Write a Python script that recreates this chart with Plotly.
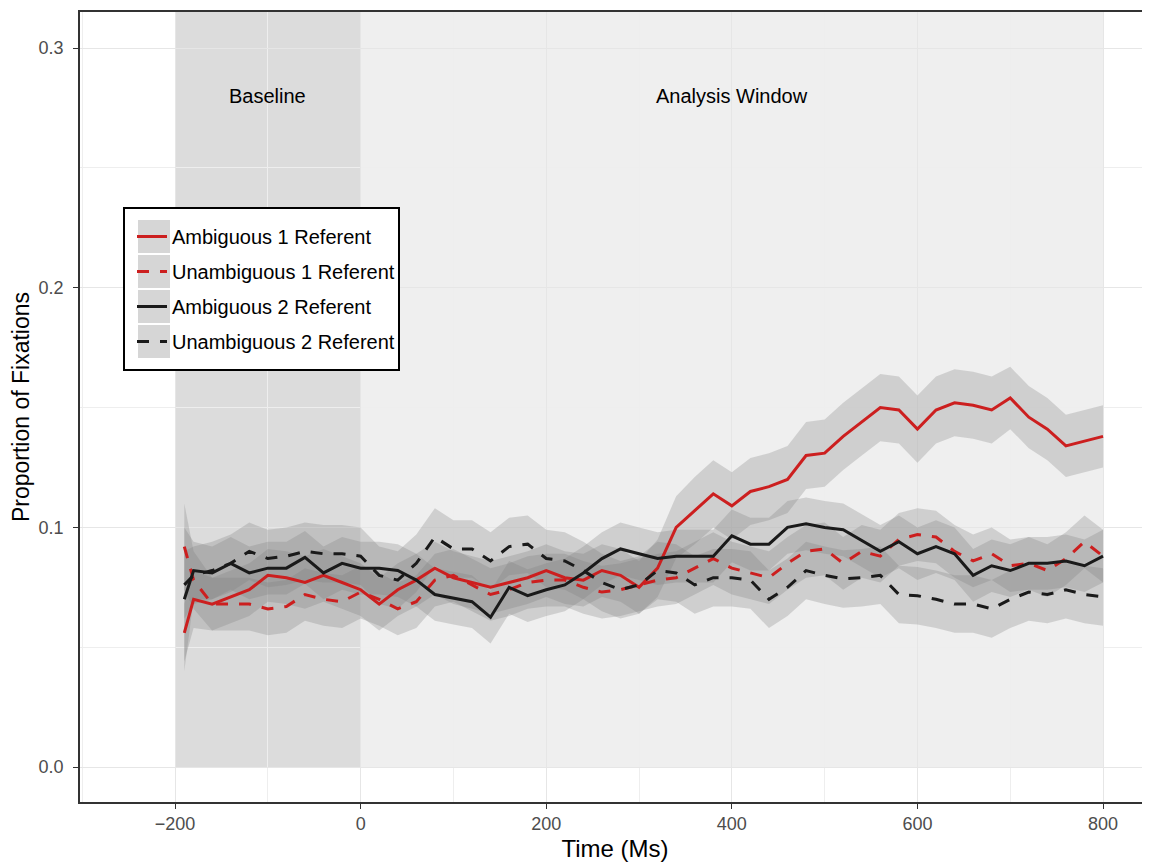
import plotly.graph_objects as go

# ---- data ----
time_ms = [-190, -180, -160, -140, -120, -100, -80, -60, -40, -20, 0, 20, 40, 60, 80, 100,
           120, 140, 160, 180, 200, 220, 240, 260, 280, 300, 320, 340, 360, 380, 400, 420,
           440, 460, 480, 500, 520, 540, 560, 580, 600, 620, 640, 660, 680, 700, 720, 740,
           760, 780, 800]

amb1 = [0.056, 0.070, 0.068, 0.071, 0.074, 0.080, 0.079, 0.077, 0.080, 0.077, 0.074, 0.068,
        0.074, 0.078, 0.083, 0.079, 0.077, 0.075, 0.077, 0.079, 0.082, 0.079, 0.078, 0.082,
        0.080, 0.075, 0.083, 0.100, 0.107, 0.114, 0.109, 0.115, 0.117, 0.120, 0.130, 0.131,
        0.138, 0.144, 0.150, 0.149, 0.141, 0.149, 0.152, 0.151, 0.149, 0.154, 0.146, 0.141,
        0.134, 0.136, 0.138]
amb1_se = [0.012, 0.012, 0.011, 0.011, 0.011, 0.011, 0.011, 0.011, 0.011, 0.011, 0.011, 0.011,
           0.011, 0.011, 0.011, 0.011, 0.011, 0.011, 0.011, 0.011, 0.011, 0.011, 0.011, 0.011,
           0.011, 0.011, 0.012, 0.013, 0.014, 0.014, 0.014, 0.014, 0.014, 0.014, 0.014, 0.014,
           0.014, 0.014, 0.014, 0.014, 0.014, 0.014, 0.014, 0.014, 0.014, 0.013, 0.013, 0.013,
           0.013, 0.013, 0.013]

unamb1 = [0.092, 0.078, 0.068, 0.068, 0.068, 0.066, 0.067, 0.072, 0.070, 0.069, 0.073, 0.070,
          0.066, 0.069, 0.078, 0.080, 0.076, 0.072, 0.074, 0.077, 0.078, 0.078, 0.075, 0.073,
          0.074, 0.076, 0.078, 0.079, 0.083, 0.087, 0.083, 0.081, 0.079, 0.085, 0.090, 0.091,
          0.085, 0.090, 0.088, 0.095, 0.097, 0.096, 0.090, 0.086, 0.089, 0.084, 0.085, 0.082,
          0.087, 0.094, 0.088]
unamb1_se = [0.018, 0.012, 0.011, 0.011, 0.011, 0.011, 0.011, 0.011, 0.011, 0.011, 0.011, 0.011,
             0.011, 0.011, 0.011, 0.011, 0.011, 0.011, 0.011, 0.011, 0.011, 0.011, 0.011, 0.011,
             0.011, 0.011, 0.011, 0.011, 0.011, 0.011, 0.011, 0.011, 0.011, 0.011, 0.011, 0.011,
             0.011, 0.011, 0.011, 0.011, 0.011, 0.011, 0.011, 0.011, 0.011, 0.011, 0.011, 0.011,
             0.011, 0.011, 0.011]

amb2 = [0.070, 0.082, 0.081, 0.085, 0.081, 0.083, 0.083, 0.0875, 0.081, 0.085, 0.083, 0.083,
        0.082, 0.078, 0.072, 0.0705, 0.069, 0.0625, 0.075, 0.0715, 0.074, 0.076, 0.081, 0.087,
        0.091, 0.089, 0.087, 0.088, 0.088, 0.088, 0.0965, 0.093, 0.093, 0.100, 0.1015, 0.100,
        0.099, 0.0945, 0.090, 0.094, 0.089, 0.092, 0.089, 0.080, 0.084, 0.082, 0.085, 0.085,
        0.086, 0.084, 0.088]
amb2_se = [0.030, 0.012, 0.011, 0.011, 0.011, 0.011, 0.011, 0.011, 0.011, 0.011, 0.011, 0.011,
           0.011, 0.011, 0.011, 0.011, 0.011, 0.011, 0.011, 0.011, 0.011, 0.011, 0.011, 0.011,
           0.011, 0.011, 0.011, 0.011, 0.011, 0.011, 0.011, 0.011, 0.011, 0.011, 0.011, 0.011,
           0.011, 0.011, 0.011, 0.011, 0.011, 0.011, 0.011, 0.011, 0.011, 0.011, 0.011, 0.011,
           0.011, 0.011, 0.011]

unamb2 = [0.076, 0.080, 0.082, 0.085, 0.090, 0.087, 0.088, 0.090, 0.089, 0.089, 0.088, 0.080,
          0.078, 0.085, 0.096, 0.091, 0.091, 0.086, 0.092, 0.093, 0.087, 0.086, 0.082, 0.077,
          0.074, 0.076, 0.082, 0.081, 0.076, 0.079, 0.079, 0.078, 0.070, 0.075, 0.082, 0.080,
          0.0785, 0.079, 0.080, 0.072, 0.0715, 0.070, 0.068, 0.068, 0.066, 0.070, 0.073, 0.072,
          0.074, 0.072, 0.071]
unamb2_se = [0.014, 0.012, 0.012, 0.012, 0.012, 0.012, 0.012, 0.012, 0.012, 0.012, 0.012, 0.012,
             0.012, 0.012, 0.012, 0.012, 0.012, 0.012, 0.012, 0.012, 0.012, 0.012, 0.012, 0.012,
             0.012, 0.012, 0.012, 0.012, 0.012, 0.012, 0.012, 0.012, 0.012, 0.012, 0.012, 0.012,
             0.012, 0.012, 0.012, 0.012, 0.012, 0.012, 0.012, 0.012, 0.012, 0.012, 0.012, 0.012,
             0.012, 0.012, 0.012]

series_names = ["Ambiguous 1 Referent", "Unambiguous 1 Referent",
                "Ambiguous 2 Referent", "Unambiguous 2 Referent"]
series_means = [amb1, unamb1, amb2, unamb2]
series_se = [amb1_se, unamb1_se, amb2_se, unamb2_se]
series_colors = ["#cc1f1f", "#cc1f1f", "#1a1a1a", "#1a1a1a"]
series_dash = ["solid", "12px,11px", "solid", "12px,11px"]

window_labels = ["Baseline", "Analysis Window"]
window_x = [-100, 400]
window_spans = [(-200, 0), (0, 800)]

FONT = "Liberation Sans, Arial, sans-serif"

# page has an 8px body margin; figure is sized so the plot lands where the reference has it
W, H = 1142, 855
ML, MR, MT, MB = 72, 0, 4, 61
PW, PH = W - ML - MR, H - MT - MB
OFF = 8

fig = go.Figure()

# ribbons
for m, s in zip(series_means, series_se):
    upper = [a + b for a, b in zip(m, s)]
    lower = [a - b for a, b in zip(m, s)]
    fig.add_trace(go.Scatter(
        x=time_ms + time_ms[::-1], y=upper + lower[::-1],
        fill="toself", fillcolor="rgba(127,127,127,0.28)",
        line=dict(width=0), mode="lines", showlegend=False, hoverinfo="skip"))

# lines
for i, (name, m, c, d) in enumerate(zip(series_names, series_means, series_colors, series_dash)):
    fig.add_trace(go.Scatter(
        x=time_ms, y=m, mode="lines", name=name, legendgroup=f"g{i}",
        line=dict(color=c, width=3, dash=d)))

shapes = []
# background windows
shapes.append(dict(type="rect", xref="x", yref="y", x0=window_spans[0][0], x1=window_spans[0][1],
                   y0=0, y1=0.3151, fillcolor="#dcdcdc", line=dict(width=0), layer="below"))
shapes.append(dict(type="rect", xref="x", yref="y", x0=window_spans[1][0], x1=window_spans[1][1],
                   y0=0, y1=0.3151, fillcolor="#efefef", line=dict(width=0), layer="below"))

# legend box background + key squares (paper coords, from page pixels)
def px2paper_x(px):
    return (px - OFF - ML) / PW

def px2paper_y(py):
    return (MT + PH - (py - OFF)) / PH

shapes.append(dict(type="rect", xref="paper", yref="paper",
                   x0=px2paper_x(124), x1=px2paper_x(399), y0=px2paper_y(208), y1=px2paper_y(370),
                   fillcolor="white", line=dict(color="black", width=2), layer="above"))
for k in range(4):
    top = 220 + 35 * k
    shapes.append(dict(type="rect", xref="paper", yref="paper",
                       x0=px2paper_x(138), x1=px2paper_x(170),
                       y0=px2paper_y(top), y1=px2paper_y(top + 33),
                       fillcolor="#d6d6d6", line=dict(width=0), layer="above"))

annotations = []
for lab, xv in zip(window_labels, window_x):
    annotations.append(dict(x=xv, y=0.28, xref="x", yref="y", text=lab, showarrow=False,
                            font=dict(family=FONT, size=20, color="black")))

fig.update_layout(
    width=W, height=H,
    margin=dict(l=ML, r=MR, t=MT, b=MB, autoexpand=False),
    paper_bgcolor="white", plot_bgcolor="white",
    shapes=shapes, annotations=annotations,
    font=dict(family=FONT),
    showlegend=True,
    legend=dict(x=px2paper_x(132), y=px2paper_y(217), xanchor="left", yanchor="top",
                bgcolor="rgba(0,0,0,0)", borderwidth=0, tracegroupgap=6,
                font=dict(family=FONT, size=20, color="black"), traceorder="grouped"),
    xaxis=dict(range=[-302.4, 850.6], tickvals=[-200, 0, 200, 400, 600, 800],
               ticktext=["\u2212200", "0", "200", "400", "600", "800"],
               automargin=False,
               showgrid=True, gridcolor="#e6e6e6", gridwidth=1.2,
               minor=dict(tickvals=[-300, -100, 100, 300, 500, 700], showgrid=True,
                          gridcolor="#eeeeee", gridwidth=0.8, ticklen=0),
               showline=True, linecolor="#333333", linewidth=1.5, mirror=True,
               ticks="outside", ticklen=5, tickcolor="#333333", tickwidth=1.2,
               tickfont=dict(family=FONT, size=18, color="#4d4d4d"),
               title=dict(text="Time (Ms)", font=dict(family=FONT, size=24, color="black"),
                          standoff=7),
               zeroline=False),
    yaxis=dict(range=[-0.0146, 0.3151], tickvals=[0.0, 0.1, 0.2, 0.3],
               ticktext=["0.0", "0.1", "0.2", "0.3"],
               automargin=False, ticklabelstandoff=6,
               showgrid=True, gridcolor="#e6e6e6", gridwidth=1.2,
               minor=dict(tickvals=[0.05, 0.15, 0.25], showgrid=True,
                          gridcolor="#eeeeee", gridwidth=0.8, ticklen=0),
               showline=True, linecolor="#333333", linewidth=1.5, mirror=True,
               ticks="outside", ticklen=5, tickcolor="#333333", tickwidth=1.2,
               tickfont=dict(family=FONT, size=18, color="#4d4d4d"),
               title=dict(text="Proportion of Fixations",
                          font=dict(family=FONT, size=23, color="black"), standoff=4),
               zeroline=False),
)

fig.write_html("out.html")
